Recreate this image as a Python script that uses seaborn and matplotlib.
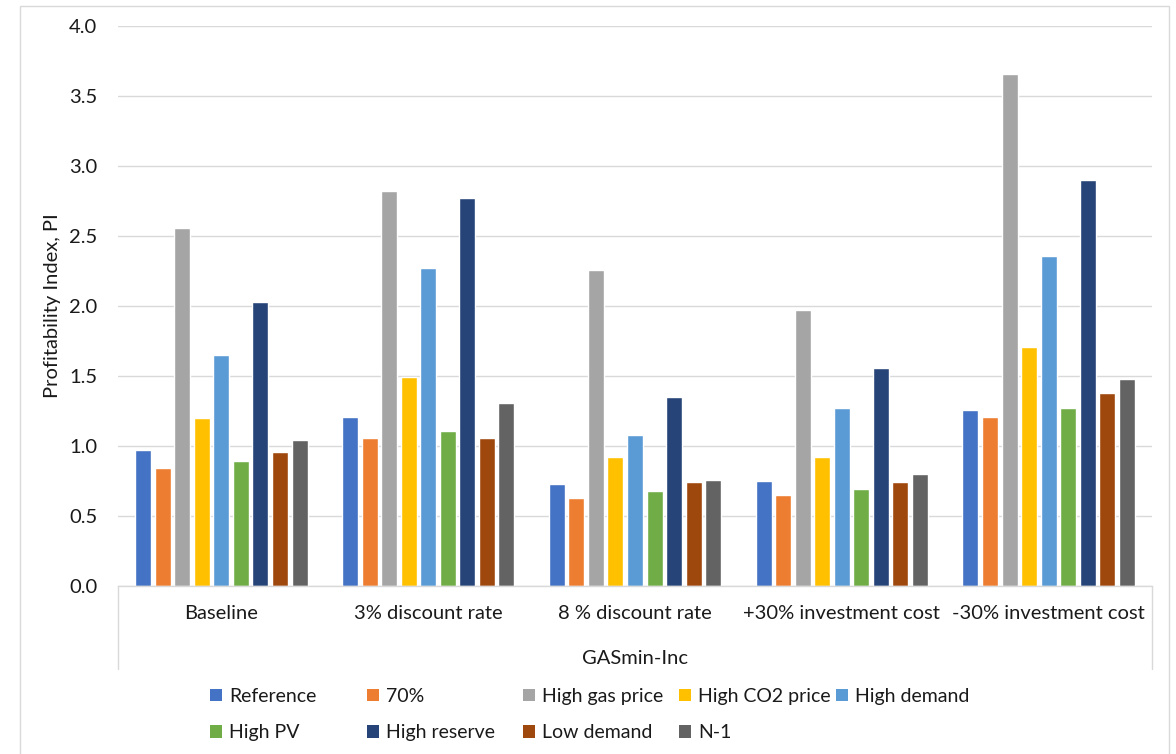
import numpy as np
import pandas as pd
import matplotlib
matplotlib.use("Agg")
import matplotlib.pyplot as plt
from matplotlib.patches import Patch, Rectangle
import seaborn as sns

# Sensitivity cases on the category axis
cases = ["Baseline", "3% discount rate", "8 % discount rate",
         "+30% investment cost", "-30% investment cost"]
group_label = "GASmin-Inc"

# Profitability index per scenario, one value per case
reference = [0.97, 1.21, 0.73, 0.75, 1.26]
share_70 = [0.84, 1.06, 0.63, 0.65, 1.21]
high_gas_price = [2.56, 2.82, 2.26, 1.97, 3.66]
high_co2_price = [1.20, 1.49, 0.92, 0.92, 1.71]
high_demand = [1.65, 2.27, 1.08, 1.27, 2.36]
high_pv = [0.89, 1.11, 0.68, 0.69, 1.27]
high_reserve = [2.03, 2.77, 1.35, 1.56, 2.90]
low_demand = [0.96, 1.06, 0.74, 0.74, 1.38]
n_minus_1 = [1.04, 1.31, 0.76, 0.80, 1.48]

scenarios = ["Reference", "70%", "High gas price", "High CO2 price", "High demand",
             "High PV", "High reserve", "Low demand", "N-1"]
series = [reference, share_70, high_gas_price, high_co2_price, high_demand,
          high_pv, high_reserve, low_demand, n_minus_1]
colors = ["#4472C4", "#ED7D31", "#A5A5A5", "#FFC000", "#5B9BD5",
          "#70AD47", "#264478", "#9E480E", "#636363"]

df = pd.DataFrame([
    {"case": c, "scenario": s, "pi": v}
    for s, vals in zip(scenarios, series)
    for c, v in zip(cases, vals)
])

sns.set_style("white")
plt.rcParams["font.family"] = ["Lato", "DejaVu Sans"]
FS = 14.5
LEG_FS = 14
TXT = "#1a1a1a"
GRID = "#d9d9d9"

W, H = 1176, 754
fig = plt.figure(figsize=(W / 100, H / 100), dpi=100)
x0, x1, y_top, y_bot = 118, 1152, 26, 586
ax = fig.add_axes([x0 / W, 1 - y_bot / H, (x1 - x0) / W, (y_bot - y_top) / H])

sns.barplot(data=df, x="case", y="pi", hue="scenario", hue_order=scenarios,
            palette=colors, saturation=1, width=0.85, gap=0.18,
            legend=False, ax=ax, errorbar=None)

ax.set_xlim(-0.5, len(cases) - 0.5)
ax.set_ylim(0, 4.0)
ax.set_yticks(np.arange(0, 4.01, 0.5))
ax.set_yticklabels([f"{t:.1f}" for t in np.arange(0, 4.01, 0.5)])
ax.yaxis.grid(True, color=GRID, linewidth=1)
ax.set_axisbelow(True)
for side in ("left", "top", "right"):
    ax.spines[side].set_visible(False)
ax.spines["bottom"].set_color(GRID)
ax.spines["bottom"].set_linewidth(1)

ax.tick_params(axis="y", length=0, pad=15, labelsize=FS, labelcolor=TXT)
ax.tick_params(axis="x", length=0, pad=14, labelsize=FS, labelcolor=TXT)

# Outline of the multi-level category axis
box_depth = (669 - y_bot) / (y_bot - y_top)
for xa in (0, 1):
    ax.plot([xa, xa], [0, -box_depth], transform=ax.transAxes,
            color=GRID, linewidth=1, clip_on=False)

ax.set_xlabel(group_label, fontsize=FS, color=TXT)
ax.xaxis.set_label_coords(0.5, -(658 - y_bot) / (y_bot - y_top))
ax.xaxis.label.set_va("center")

ax.set_ylabel("Profitability Index, PI", fontsize=FS, color=TXT)
ax.yaxis.set_label_coords((53 - x0) / (x1 - x0), 0.5)
ax.yaxis.label.set_va("center")

# Chart area border
fig.patches.append(Rectangle((19.5 / W, -0.05), (1169 - 19.5) / W, 1.05 - 5.5 / H,
                             transform=fig.transFigure, fill=False,
                             edgecolor=GRID, linewidth=1))

# Legend laid out in two rows of equally spaced columns
col_x = [210, 367, 523, 679, 836]
ncols = len(col_x)
for ci, cx in enumerate(col_x):
    idx = [i for i in range(len(scenarios)) if i % ncols == ci]
    handles = [Patch(facecolor=colors[i], edgecolor="none") for i in idx]
    labels = [scenarios[i] for i in idx]
    fig.legend(handles, labels, loc="upper left",
               bbox_to_anchor=(cx / W, 1 - 688 / H),
               frameon=False, fontsize=LEG_FS, labelcolor=TXT,
               handlelength=0.62, handleheight=0.62, handletextpad=0.35,
               borderpad=0, borderaxespad=0, labelspacing=1.0)

fig.savefig("out.png", dpi=100)
